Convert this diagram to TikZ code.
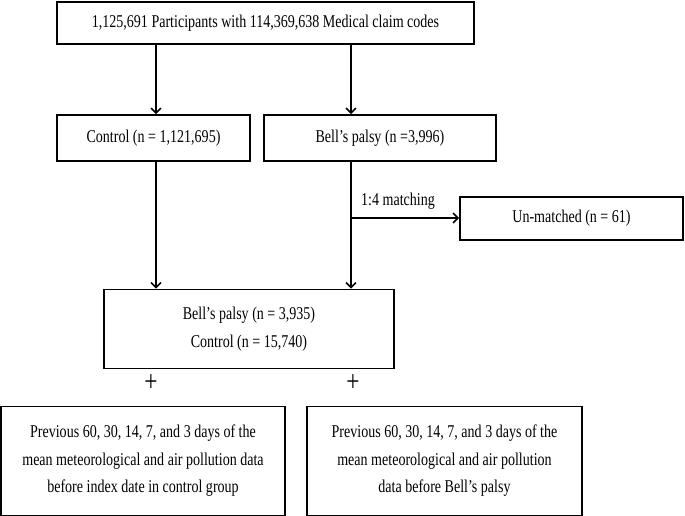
\documentclass[tikz,border=0pt]{standalone}
\usepackage{fontspec}
\setmainfont{Liberation Serif}[FakeStretch=0.78]
\usetikzlibrary{arrows.meta,calc}
\begin{document}
\begin{tikzpicture}[x=1pt,y=1pt,
  box/.style={draw,line width=1.6pt,inner sep=0pt,align=center,font=\fontsize{18}{27.5}\selectfont},
  arr/.style={line width=1.6pt,-{Straight Barb[length=5pt,width=10pt,line width=1.6pt]}},
  lbl/.style={font=\fontsize{18}{20}\selectfont},
  plus/.style={font=\fontsize{30}{30}\selectfont,inner sep=0pt}]
\useasboundingbox (0,0) rectangle (685,-516);
\node[box,minimum width=417,minimum height=42] (top) at (265.5,-23) {1,125,691 Participants with 114,369,638 Medical claim codes};
\node[box,minimum width=193,minimum height=46] (ctrl) at (153.5,-138) {Control (n = 1,121,695)};
\node[box,minimum width=232,minimum height=46] (bell) at (380,-138) {Bell’s palsy (n =3,996)};
\node[box,minimum width=223,minimum height=43] (unm) at (571.5,-218.5) {Un-matched (n = 61)};
\node[box,minimum width=290,minimum height=79] (merge) at (249,-329) {Bell’s palsy (n = 3,935)\\Control (n = 15,740)};
\node[box,minimum width=284,minimum height=109] (bl) at (143,-461) {Previous 60, 30, 14, 7, and 3 days of the\\mean meteorological and air pollution data\\before index date in control group};
\node[box,minimum width=275,minimum height=109] (br) at (444.5,-461) {Previous 60, 30, 14, 7, and 3 days of the\\mean meteorological and air pollution\\data before Bell’s palsy};
\node[plus] (p1) at (151,-383) {+};
\node[plus] (p2) at (353,-383) {+};
\coordinate (xa) at (156,0);
\coordinate (xb) at (351,0);
\coordinate (br1) at (351,-218);
\draw[arr] (top.south -| xa) -- (ctrl.north -| xa);
\draw[arr] (top.south -| xb) -- (bell.north -| xb);
\draw[arr] (ctrl.south -| xa) -- (merge.north -| xa);
\draw[arr] (bell.south -| xb) -- (merge.north -| xb);
\draw[arr] (br1) -- (unm.west |- br1);
\node[lbl,anchor=center] (m) at (398,-201) {1:4 matching};
\end{tikzpicture}
\end{document}
